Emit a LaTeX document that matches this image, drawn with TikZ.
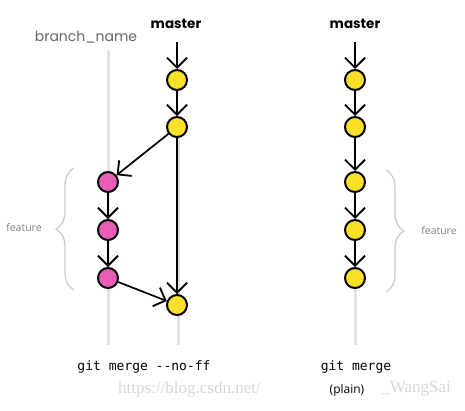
\documentclass[tikz,border=0pt]{standalone}
\usepackage{fontspec}
\setmainfont{Open Sans}
\newfontfamily\hand{Poppins}
\newfontfamily\monof{DejaVu Sans Mono}
\newfontfamily\wmfont{Liberation Serif}
\usetikzlibrary{arrows.meta,decorations.pathreplacing}
\definecolor{yel}{HTML}{FBE02A}
\definecolor{pnk}{HTML}{E85DB8}
\definecolor{guide}{HTML}{E2E2E2}
\definecolor{brace}{HTML}{CCCCCC}
\begin{document}
\begin{tikzpicture}[x=1pt,y=-1pt,
  commit/.style={circle,draw=black,line width=2pt,minimum size=20pt,inner sep=0pt},
  ycommit/.style={commit,fill=yel},
  pcommit/.style={commit,fill=pnk},
  flow/.style={line width=1.7pt,-{Straight Barb[length=10pt,width=20pt,line width=1.8pt]}},
  guideline/.style={guide,line width=3pt},
  bracestyle/.style={brace,line width=1.3pt,decorate,decoration={brace,amplitude=18pt}},
  lab/.style={font=\hand\fontsize{14}{16}\selectfont},
  featlab/.style={text=gray,font=\fontsize{10.5}{12}\selectfont},
  cmd/.style={font=\monof\fontsize{13}{15}\selectfont}]
\useasboundingbox (0,0) rectangle (465,410);
% guide lines
\draw[guideline] (108,50) -- (108,345);
\draw[guideline] (178,135) -- (178,345);
\draw[guideline] (355,285) -- (355,345);
% labels
\node[lab,text=black!60] (bn) at (86,37) {branch\_name};
\node[lab,font=\hand\bfseries\fontsize{13.5}{16}\selectfont] (m1) at (176,24) {master};
\node[lab,font=\hand\bfseries\fontsize{13.5}{16}\selectfont] (m2) at (355,24) {master};
% left diagram
\node[ycommit] (a1) at (177,80) {};
\node[ycommit] (a2) at (177,127) {};
\node[pcommit] (p1) at (108,182) {};
\node[pcommit] (p2) at (108,230) {};
\node[pcommit] (p3) at (108,278) {};
\node[ycommit] (am) at (177,305) {};
\coordinate (m1s) at (177,42);
\draw[flow] (m1s) -- (a1);
\draw[flow] (a1) -- (a2);
\draw[flow] (a2) -- (p1);
\draw[flow] (a2) -- (am);
\draw[flow] (p1) -- (p2);
\draw[flow] (p2) -- (p3);
\draw[flow] (p3) -- (am);
% right diagram
\node[ycommit] (b1) at (355,80) {};
\node[ycommit] (b2) at (355,127) {};
\node[ycommit] (b3) at (355,182) {};
\node[ycommit] (b4) at (355,230) {};
\node[ycommit] (b5) at (355,278) {};
\coordinate (m2s) at (355,42);
\draw[flow] (m2s) -- (b1);
\draw[flow] (b1) -- (b2);
\draw[flow] (b2) -- (b3);
\draw[flow] (b3) -- (b4);
\draw[flow] (b4) -- (b5);
% braces
\coordinate (lb1) at (74,290);
\coordinate (lb2) at (74,168);
\draw[bracestyle] (lb1) -- (lb2);
\node[featlab] (f1) at (24,228) {feature};
\coordinate (rb1) at (386,170);
\coordinate (rb2) at (386,292);
\draw[bracestyle] (rb1) -- (rb2);
\node[featlab] (f2) at (439,231) {feature};
% watermark
\node[text=black!16,font=\wmfont\fontsize{17}{19}\selectfont,anchor=west,inner sep=0pt] (wm1) at (118,389) {https://blog.csdn.net/};
\node[text=black!16,font=\wmfont\fontsize{17}{19}\selectfont,anchor=east,inner sep=0pt] (wm2) at (451,389) {\_WangSai};
% commands
\node[cmd] (c1) at (144,367) {git merge -{}-no-ff};
\node[cmd] (c2) at (356,367) {git merge};
\node[font=\fontsize{12}{14}\selectfont] (c3) at (347,390) {(plain)};
\end{tikzpicture}
\end{document}
